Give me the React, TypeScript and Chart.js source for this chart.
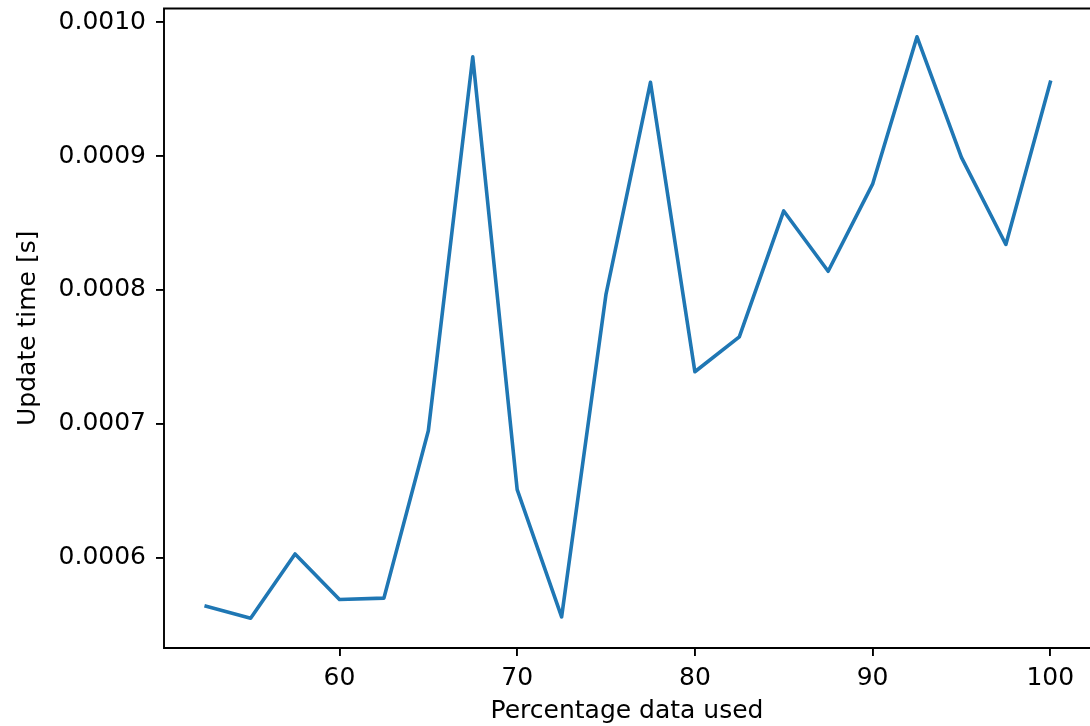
import React, { useEffect, useRef } from "react";
import { Chart, registerables } from "chart.js";

Chart.register(...registerables);

const percentages = [52.5, 55, 57.5, 60, 62.5, 65, 67.5, 70, 72.5, 75, 77.5, 80, 82.5, 85, 87.5, 90, 92.5, 95, 97.5, 100];
const updateTimes = [
  0.000564, 0.000555, 0.000603, 0.000569, 0.00057, 0.000695, 0.000974, 0.000651, 0.000556, 0.000797,
  0.000955, 0.000739, 0.000765, 0.000859, 0.000814, 0.000879, 0.000989, 0.000899, 0.000834, 0.000955,
];
const xTicks = [60, 70, 80, 90, 100];
const yTicks = [0.0006, 0.0007, 0.0008, 0.0009, 0.001];
const xTitle = "Percentage data used";
const yTitle = "Update time [s]";

const FONT = "'DejaVu Sans', sans-serif";
const FS = 25;
const AXIS_W = 1.9;

const boxPlugin = {
  id: "box",
  afterDatasetsDraw(chart: any) {
    const { ctx, chartArea } = chart;
    const { left, right, top, bottom } = chartArea;
    ctx.save();
    ctx.strokeStyle = "#000";
    ctx.lineWidth = AXIS_W;
    ctx.beginPath();
    ctx.moveTo(right + 5, top);
    ctx.lineTo(left, top);
    ctx.lineTo(left, bottom);
    ctx.lineTo(right + 5, bottom);
    ctx.stroke();
    ctx.restore();
  },
};

export default function App() {
  const ref = useRef<HTMLCanvasElement>(null);
  useEffect(() => {
    const chart = new Chart(ref.current!, {
      type: "line",
      data: {
        datasets: [
          {
            data: percentages.map((x, i) => ({ x, y: updateTimes[i] })),
            borderColor: "#1f77b4",
            borderWidth: 3.6,
            borderJoinStyle: "round",
            borderCapStyle: "square",
            pointRadius: 0,
            tension: 0,
            fill: false,
          },
        ],
      },
      options: {
        animation: false,
        responsive: true,
        maintainAspectRatio: false,
        layout: { padding: { top: 8.5, right: 0, bottom: 0, left: 0 } },
        plugins: { legend: { display: false }, tooltip: { enabled: false } },
        scales: {
          x: {
            type: "linear",
            min: 50.125,
            max: 102.235,
            afterBuildTicks: (scale: any) => {
              scale.ticks = xTicks.map((v) => ({ value: v }));
            },
            afterFit: (scale: any) => {
              scale.height = 78;
              scale.paddingLeft = 0;
              scale.paddingRight = 0;
            },
            grid: { drawOnChartArea: false, drawTicks: true, tickLength: 8, color: "#000", lineWidth: AXIS_W },
            border: { display: false },
            ticks: {
              color: "#000",
              font: { family: FONT, size: FS },
              padding: 7,
              maxRotation: 0,
              autoSkip: false,
              callback: (v: any) => String(v),
            },
            title: {
              display: true,
              text: xTitle,
              color: "#000",
              font: { family: FONT, size: FS },
              padding: { top: 0, bottom: 0 },
            },
          },
          y: {
            type: "linear",
            min: 0.0005328,
            max: 0.0010101,
            afterBuildTicks: (scale: any) => {
              scale.ticks = yTicks.map((v) => ({ value: v }));
            },
            afterFit: (scale: any) => {
              scale.width = 164;
              scale.paddingTop = 0;
              scale.paddingBottom = 0;
            },
            grid: { drawOnChartArea: false, drawTicks: true, tickLength: 8, color: "#000", lineWidth: AXIS_W },
            border: { display: false },
            ticks: {
              color: "#000",
              font: { family: FONT, size: FS },
              padding: 10,
              autoSkip: false,
              callback: (v: any) => Number(v).toFixed(4),
            },
            title: {
              display: true,
              text: yTitle,
              color: "#000",
              font: { family: FONT, size: FS },
              padding: { top: 13, bottom: 0 },
            },
          },
        },
      },
      plugins: [boxPlugin],
    });
    return () => chart.destroy();
  }, []);
  return (
    <div style={{ position: "fixed", left: 0, top: 0, width: 1090, height: 726, background: "#fff" }}>
      <canvas ref={ref} />
    </div>
  );
}
